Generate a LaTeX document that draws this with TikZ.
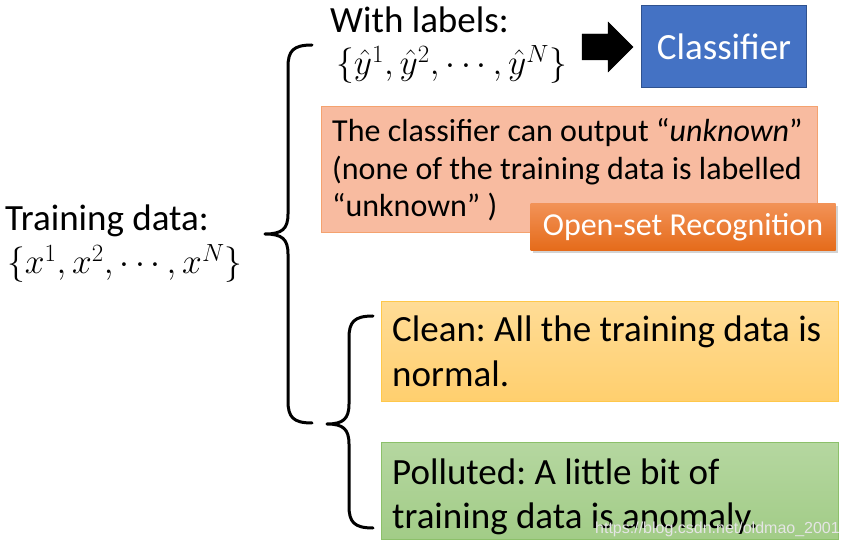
\documentclass[tikz,border=0pt]{standalone}
\usepackage{fix-cm}
\usepackage{fontspec}
\setmainfont{Carlito}
\newfontfamily\urlfont{Liberation Sans}
\usetikzlibrary{positioning,shadows}
\frenchspacing

\definecolor{clfblue}{HTML}{4472C4}
\definecolor{clfedge}{HTML}{2F528F}
\definecolor{salmonfill}{HTML}{F8BBA0}
\definecolor{salmonedge}{HTML}{F4A26F}
\definecolor{osrtop}{HTML}{F29257}
\definecolor{osrbot}{HTML}{E56B1A}
\definecolor{cleantop}{HTML}{FFDC96}
\definecolor{cleanbot}{HTML}{FFCF6E}
\definecolor{cleanedge}{HTML}{FFC84A}
\definecolor{pollutop}{HTML}{B5D7A0}
\definecolor{pollubot}{HTML}{A2CC87}
\definecolor{polluedge}{HTML}{8CC06A}

% lineas de texto, con la linea base en la primera
\newcommand{\boxlines}[1]{\begin{tabular}[t]{@{}l@{}}#1\end{tabular}}

\begin{document}
\begin{tikzpicture}
  [x=1pt, y=-1pt,
   big/.style={font=\fontsize{37}{44}\selectfont},
   small/.style={font=\fontsize{32}{37.5}\selectfont},
   mathtext/.style={font=\fontsize{35.5}{40}\selectfont},
   lbltext/.style={inner sep=0pt, anchor=base west},
   colbox/.style={draw, line width=1pt, anchor=north west, inner sep=0pt},
   bracepath/.style={line width=3pt, line cap=round, line join=round}]

  \useasboundingbox (0,0) rectangle (847,548);

  % Datos de entrenamiento
  \node[lbltext, big] (train) at (5,231) {Training data:};
  \node[lbltext, mathtext] (xset) at (7,274) {$\{x^1,x^2,\cdots,x^N\}$};

  % Con etiquetas
  \node[lbltext, big] (lab) at (330,33) {With labels:};
  \node[lbltext, mathtext] (yset) at (336,75) {$\{\hat{y}^1,\hat{y}^2,\cdots,\hat{y}^N\}$};

  % Clasificador
  \node[colbox, big, fill=clfblue, draw=clfedge, text=white,
        minimum width=165pt, minimum height=82pt] (clf) at (641,5) {Classifier};
  \draw[fill=black] (582,34) -- (608,34) -- (608,22) -- (633,47) -- (608,72) -- (608,60) -- (582,60) -- cycle;

  % Reconocimiento de conjunto abierto
  \node[colbox, fill=salmonfill, draw=salmonedge, minimum width=496pt, minimum height=126pt] (unk) at (321,106) {};
  \node[lbltext, small] (unktext) at (332,142)
    {\boxlines{The classifier can output “\textit{unknown}”\\(none of the training data is labelled\\“unknown” )}};
  \node[colbox, small, top color=osrtop, bottom color=osrbot, draw=none, text=white,
        drop shadow={opacity=0.35, shadow xshift=2pt, shadow yshift=-3pt},
        minimum width=305pt, minimum height=47pt] (osr) at (530,203) {Open-set Recognition};

  % Limpio / contaminado
  \node[colbox, top color=cleantop, bottom color=cleanbot, draw=cleanedge, minimum width=457pt, minimum height=100pt] (clean) at (381,301) {};
  \node[lbltext, big] (cleantext) at (392,342) {\boxlines{Clean: All the training data is\\normal.}};
  \node[colbox, top color=pollutop, bottom color=pollubot, draw=polluedge, minimum width=457pt, minimum height=97pt] (poll) at (381,442) {};
  \node[lbltext, big] (polltext) at (392,484) {\boxlines{Polluted: A little bit of\\training data is anomaly.}};

  % Llaves
  \draw[bracepath] (312,45) .. controls (293,45) and (288,51) .. (288,67) -- (288,214)
    .. controls (288,229) and (282,234) .. (265,234) .. controls (282,234) and (288,239) .. (288,254)
    -- (288,401) .. controls (288,417) and (293,423) .. (312,423);
  \draw[bracepath] (373,316) .. controls (354,316) and (349,322) .. (349,338) -- (349,404)
    .. controls (349,419) and (343,424) .. (327,424) .. controls (343,424) and (349,429) .. (349,444)
    -- (349,506) .. controls (349,522) and (354,528) .. (373,528);

  % Marca de agua
  \node[font=\urlfont\fontsize{16}{16}\selectfont, text=white!80!gray, anchor=base east, inner sep=0pt] (wm) at (840,533)
    {https://blog.csdn.net/oldmao\_2001};
\end{tikzpicture}
\end{document}
